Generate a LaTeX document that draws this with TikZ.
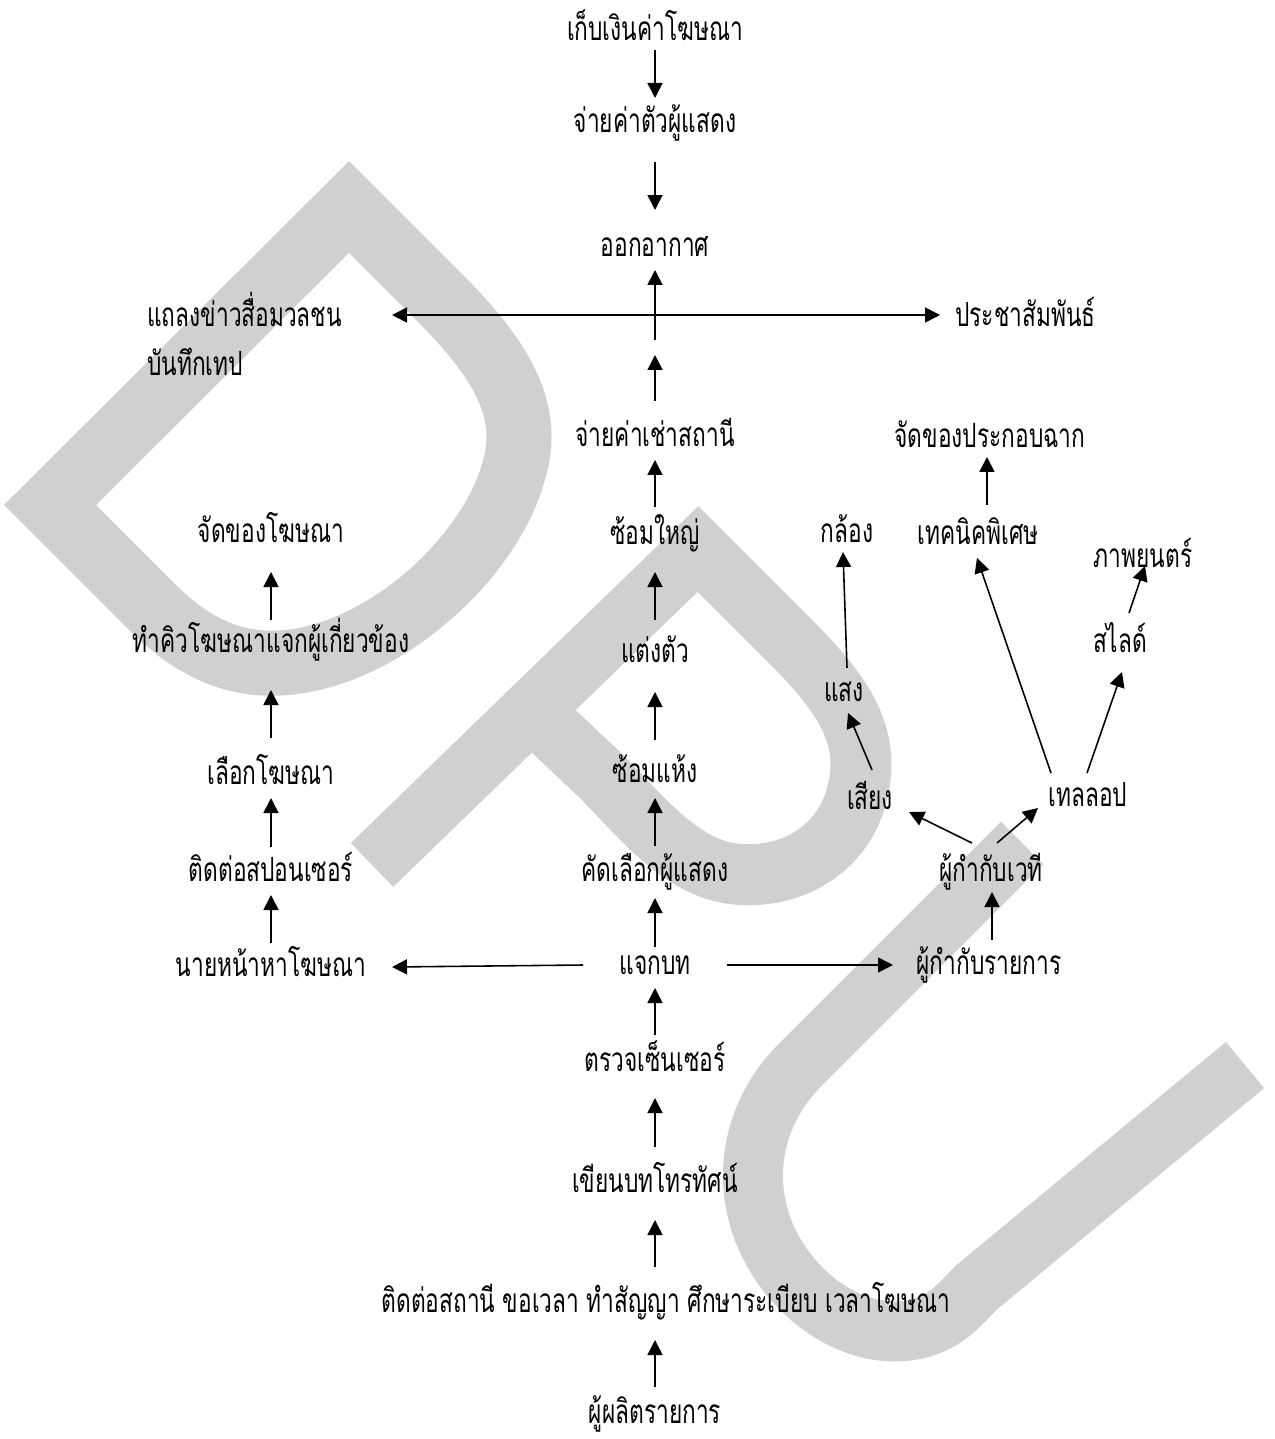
\documentclass[tikz,border=0pt]{standalone}
\usepackage{fontspec}
\newfontfamily\thaifont[Script=Thai,FakeStretch=0.68]{Loma}
\usetikzlibrary{arrows.meta,calc}
\definecolor{wmgray}{RGB}{208,208,208}
\tikzset{
  lbl/.style={font=\thaifont\fontsize{19pt}{22pt}\selectfont, inner sep=0pt, text height=0.5cm, text depth=0.14cm},
  arr/.style={-{Triangle[length=0.3cm,width=0.3cm]}, line width=0.9pt},
  wm/.style={draw=wmgray, line join=miter}
}
\begin{document}
\begin{tikzpicture}[x=0.02cm,y=-0.02cm]
\useasboundingbox (0,0) rectangle (1274,1439);
% watermark D P U
\draw[wm, line width=1.3cm] (50,505) -- (349,207) -- (440,298) .. controls (500,358) and (532,410) .. (514,470)
   .. controls (490,560) and (380,658) .. (280,663) .. controls (225,666) and (185,640) .. (150,605) -- cycle;
\draw[wm, line width=1.22cm] (372,865) -- (698,549) -- (785,636) .. controls (845,695) and (870,735) .. (858,790)
   .. controls (845,850) and (790,880) .. (735,874) .. controls (680,868) and (640,815) .. (600,775) -- (512,692);
\draw[wm, line width=1.2cm] (1022,843) -- (800,1065) .. controls (755,1110) and (740,1175) .. (765,1235)
   .. controls (795,1305) and (870,1350) .. (932,1324) .. controls (952,1315) and (962,1302) .. (977,1287) -- (1245,1065);

% centre column
\node[lbl] (collect) at (655,32) {เก็บเงินค่าโฆษณา};
\node[lbl] (payact) at (655,124) {จ่ายค่าตัวผู้แสดง};
\node[lbl] (onair) at (655,248) {ออกอากาศ};
\coordinate (hubtop) at (655,340);
\coordinate (hubbot) at (655,355);
\node[lbl] (rent) at (655,437) {จ่ายค่าเช่าสถานี};
\node[lbl] (full) at (655,535) {ซ้อมใหญ่};
\node[lbl] (dress) at (655,653) {แต่งตัว};
\node[lbl] (dry) at (655,773) {ซ้อมแห้ง};
\node[lbl] (cast) at (655,872) {คัดเลือกผู้แสดง};
\node[lbl] (dist) at (655,965) {แจกบท};
\node[lbl] (censor) at (655,1062) {ตรวจเซ็นเซอร์};
\node[lbl] (script) at (655,1183) {เขียนบทโทรทัศน์};
\node[lbl] (station) at (666,1303) {ติดต่อสถานี ขอเวลา ทำสัญญา ศึกษาระเบียบ เวลาโฆษณา};
\node[lbl] (producer) at (655,1414) {ผู้ผลิตรายการ};
% press line
\node[lbl,anchor=west] (press) at (147,318) {แถลงข่าวสื่อมวลชน};
\node[lbl,anchor=west] (tape) at (147,367) {บันทึกเทป};
\node[lbl,anchor=west] (pr) at (955,318) {ประชาสัมพันธ์};
% left column
\node[lbl] (adprops) at (271,533) {จัดของโฆษณา};
\node[lbl] (cue) at (271,643) {ทำคิวโฆษณาแจกผู้เกี่ยวข้อง};
\node[lbl] (pick) at (271,775) {เลือกโฆษณา};
\node[lbl] (sponsor) at (271,872) {ติดต่อสปอนเซอร์};
\node[lbl] (agent) at (271,967) {นายหน้าหาโฆษณา};
% right part
\node[lbl] (director) at (989,965) {ผู้กำกับรายการ};
\node[lbl] (stage) at (991,872) {ผู้กำกับเวที};
\node[lbl] (sound) at (870,800) {เสียง};
\node[lbl] (light) at (844,692) {แสง};
\node[lbl] (camera) at (847,533) {กล้อง};
\node[lbl] (special) at (978,535) {เทคนิคพิเศษ};
\node[lbl] (setprops) at (990,438) {จัดของประกอบฉาก};
\node[lbl] (tello) at (1088,797) {เทลลอป};
\node[lbl] (slide) at (1120,643) {สไลด์};
\node[lbl] (film) at (1143,558) {ภาพยนตร์};

\draw[arr] ($(collect)+(0,18)$) -- ($(payact)+(0,-26)$);
\draw[arr] ($(payact)+(0,38)$) -- ($(onair)+(0,-38)$);
\draw[arr] (hubtop) -- ($(onair)+(0,22)$);
\draw[arr] ($(rent)+(0,-36)$) -- (hubbot);
\draw[arr] ($(full)+(0,-28)$) -- ($(rent)+(0,23)$);
\draw[arr] ($(dress)+(0,-33)$) -- ($(full)+(0,37)$);
\draw[arr] ($(dry)+(0,-33)$) -- ($(dress)+(0,39)$);
\draw[arr] ($(cast)+(0,-26)$) -- ($(dry)+(0,25)$);
\draw[arr] ($(dist)+(0,-18)$) -- ($(cast)+(0,26)$);
\draw[arr] ($(censor)+(0,-27)$) -- ($(dist)+(0,23)$);
\draw[arr] ($(script)+(0,-36)$) -- ($(censor)+(0,36)$);
\draw[arr] ($(station)+(-11,-36)$) -- ($(script)+(0,37)$);
\draw[arr] ($(producer)+(0,-27)$) -- ($(station)+(-11,37)$);
\draw[{Triangle[length=0.3cm,width=0.3cm]}-{Triangle[length=0.3cm,width=0.3cm]}, line width=0.9pt]
  ($(press.west)+(245,-3)$) -- ($(pr.west)+(-15,-3)$);

\draw[arr] ($(cue)+(0,-23)$) -- ($(adprops)+(0,39)$);
\draw[arr] ($(pick)+(0,-37)$) -- ($(cue)+(0,47)$);
\draw[arr] ($(sponsor)+(0,-25)$) -- ($(pick)+(0,23)$);
\draw[arr] ($(agent)+(0,-24)$) -- ($(sponsor)+(0,23)$);
\draw[arr] ($(dist)+(-72,0)$) -- ($(agent)+(121,0)$);
\draw[arr] ($(dist)+(72,0)$) -- ($(director)+(-96,0)$);

\draw[arr] ($(director)+(3,-25)$) -- ($(stage)+(1,20)$);
\draw[arr] ($(stage)+(-19,-29)$) -- ($(sound)+(39,12)$);
\draw[arr] ($(stage)+(6,-29)$) -- ($(tello)+(-50,11)$);
\draw[arr] ($(sound)+(2,-30)$) -- ($(light)+(4,21)$);
\draw[arr] ($(light)+(3,-24)$) -- ($(camera)+(-4,19)$);
\draw[arr] ($(tello)+(-37,-24)$) -- ($(special)+(-1,23)$);
\draw[arr] ($(tello)+(-1,-24)$) -- ($(slide)+(2,29)$);
\draw[arr] ($(slide)+(9,-30)$) -- ($(film)+(2,8)$);
\draw[arr] ($(special)+(9,-30)$) -- ($(setprops)+(-3,19)$);
\end{tikzpicture}
\end{document}
